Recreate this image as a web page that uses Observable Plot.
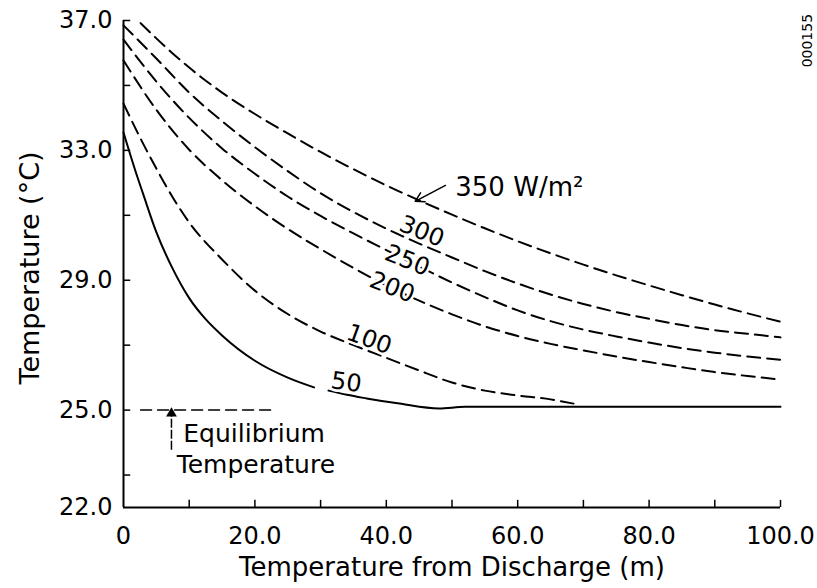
<!DOCTYPE html>
<html>
<head>
<meta charset="utf-8">
<script src="https://cdn.jsdelivr.net/npm/d3@7"></script>
<script src="https://cdn.jsdelivr.net/npm/@observablehq/plot@0.6"></script>
<style>
  body { margin: 0; background: #fff; }
</style>
</head>
<body>
<div id="chart"></div>
<script>
// ---- data (distance from discharge in m, temperature in °C) ----
const dist5 = [0, 5, 10, 15, 20, 25, 30, 35, 40, 45, 50, 55, 60, 65, 70, 75, 80, 85, 90, 95, 100];

const x350 = [2.6, 5, 10, 15, 20, 25, 30, 35, 40, 45, 50, 55, 60, 65, 70, 75, 80, 85, 90, 95, 100];
const t350 = [36.92, 36.45, 35.55, 34.78, 34.12, 33.52, 32.95, 32.42, 31.92, 31.46, 31.02, 30.60, 30.20, 29.83, 29.48, 29.15, 28.84, 28.54, 28.25, 27.98, 27.72];

const t300 = [36.85, 35.83, 34.78, 33.90, 33.10, 32.36, 31.68, 31.10, 30.59, 30.13, 29.70, 29.28, 28.90, 28.56, 28.27, 28.02, 27.81, 27.62, 27.46, 27.35, 27.24];
const t250 = [36.41, 35.12, 34.00, 33.06, 32.28, 31.58, 30.98, 30.44, 29.93, 29.42, 28.93, 28.48, 28.07, 27.74, 27.48, 27.27, 27.08, 26.91, 26.77, 26.65, 26.55];
const t200 = [35.77, 34.25, 33.02, 32.08, 31.28, 30.58, 29.96, 29.38, 28.84, 28.37, 27.95, 27.58, 27.28, 27.04, 26.84, 26.65, 26.48, 26.32, 26.17, 26.05, 25.94];

const x100 = [0, 2.5, 5, 7.5, 10, 15, 20, 25, 30, 35, 40, 45, 50, 55, 60, 65, 68.5];
const t100 = [34.44, 33.40, 32.44, 31.55, 30.78, 29.64, 28.68, 27.96, 27.42, 27.00, 26.61, 26.22, 25.85, 25.60, 25.45, 25.33, 25.20];

const x50a = [0, 2, 3, 5, 7.5, 10, 12.5, 15, 20, 25, 29];
const t50a = [33.55, 32.25, 31.65, 30.48, 29.35, 28.45, 27.80, 27.30, 26.52, 26.00, 25.70];
const x50b = [31.2, 34, 37, 42, 48, 52, 100];
const t50b = [25.60, 25.47, 25.36, 25.20, 25.05, 25.10, 25.10];

const eqX = [2.6, 22.4];
const eqT = [25.0, 25.0];

const curveLabels = ["300", "250", "200", "100", "50"];
const curveLabelX = [45.4, 43.2, 40.9, 37.4, 33.9];
const curveLabelT = [30.50, 29.61, 28.78, 27.18, 25.85];
const curveLabelAngle = [22, 22, 22, 20, 8];

const xTickLabels = [0, 20, 40, 60, 80, 100];
const xTicks = [10, 20, 30, 40, 50, 60, 70, 80, 90, 100];
const yTickLabels = [22, 25, 29, 33, 37];
const yTicks = [23, 25, 27, 29, 31, 33, 35, 37];

// annotations (data coordinates)
const annot350 = {text: "350 W/m²", x: 50.5, t: 31.86, fromX: 49.0, fromT: 31.92, toX: 44.4, toT: 31.43};
const annotEq = {lines: ["Equilibrium", "Temperature"], x: [9.1, 8.1], t: [24.25, 23.30], arrowX: 7.3, arrowFrom: 23.76, arrowTo: 24.90};
const figId = {text: "000155", x: 104.1, t: 36.38};

// ---- build tables ----
const zip = (xs, ts) => xs.map((x, i) => ({x, t: ts[i]}));
const d350 = zip(x350, t350);
const d300 = zip(dist5, t300);
const d250 = zip(dist5, t250);
const d200 = zip(dist5, t200);
const d100 = zip(x100, t100);
const d50a = zip(x50a, t50a);
const d50b = zip(x50b, t50b);
const dEq = zip(eqX, eqT);
const labelRows = curveLabels.map((s, i) => ({s, x: curveLabelX[i], t: curveLabelT[i], a: curveLabelAngle[i]}));

const dash = "13,7";
const lineOpts = (extra) => Object.assign({x: "x", y: "t", stroke: "black", strokeWidth: 2, curve: "monotone-x"}, extra);

const chart = Plot.plot({
  width: 817,
  height: 588,
  marginTop: 20,
  marginBottom: 81,
  marginLeft: 123,
  marginRight: 37,
  x: {domain: [0, 100]},
  y: {domain: [22, 37]},
  style: {fontFamily: "DejaVu Sans", background: "white", color: "black"},
  marks: [
    // axis lines
    Plot.ruleX([0], {stroke: "black", strokeWidth: 2}),
    Plot.ruleY([22], {stroke: "black", strokeWidth: 2}),
    // inward ticks
    Plot.ruleX(xTicks, {x: d => d, y1: 22, y2: 22.22, stroke: "black", strokeWidth: 1.5}),
    Plot.ruleY(yTicks, {y: d => d, x1: 0, x2: 1.1, stroke: "black", strokeWidth: 1.5}),
    // tick labels
    Plot.axisX(xTickLabels, {tickSize: 0, tickPadding: 19, tickFormat: d => d === 0 ? "0" : d.toFixed(1), label: null, fontSize: 24, fill: "black"}),
    Plot.axisY(yTickLabels, {tickSize: 0, tickPadding: 11, tickFormat: d => d.toFixed(1), label: null, fontSize: 24, fill: "black"}),
    // axis titles
    Plot.text(["Temperature from Discharge (m)"], {frameAnchor: "bottom", dy: 68, fontSize: 26, fill: "black", textAnchor: "middle"}),
    Plot.text(["Temperature (°C)"], {frameAnchor: "left", dx: -93, dy: 4, rotate: -90, fontSize: 27, fill: "black", textAnchor: "middle"}),
    // curves
    Plot.line(d350, lineOpts({strokeDasharray: dash})),
    Plot.line(d300, lineOpts({strokeDasharray: dash})),
    Plot.line(d250, lineOpts({strokeDasharray: dash})),
    Plot.line(d200, lineOpts({strokeDasharray: dash})),
    Plot.line(d100, lineOpts({strokeDasharray: dash})),
    Plot.line(d50a, lineOpts({})),
    Plot.line(d50b, lineOpts({})),
    // equilibrium line
    Plot.line(dEq, lineOpts({strokeDasharray: "11,6", strokeWidth: 1.5, curve: "linear"})),
    // curve labels
    Plot.text(labelRows, {x: "x", y: "t", text: "s", rotate: "a", fontSize: 24, fill: "black", stroke: "white", strokeWidth: 5, paintOrder: "stroke"}),
    // 350 annotation
    Plot.arrow([annot350], {x1: "fromX", y1: "fromT", x2: "toX", y2: "toT", stroke: "black", strokeWidth: 1.5, headLength: 10}),
    Plot.text([annot350], {x: "x", y: "t", text: "text", textAnchor: "start", fontSize: 26, fill: "black"}),
    // equilibrium annotation
    Plot.ruleX([annotEq], {x: "arrowX", y1: "arrowFrom", y2: "arrowTo", stroke: "black", strokeWidth: 1.5, strokeDasharray: "9,2"}),
    Plot.dot([annotEq], {x: "arrowX", y: "arrowTo", symbol: "triangle", r: 4, fill: "black", stroke: "none"}),
    Plot.text(annotEq.lines.map((s, i) => ({s, x: annotEq.x[i], t: annotEq.t[i]})), {x: "x", y: "t", text: "s", textAnchor: "start", fontSize: 25, fill: "black"}),
    // figure id
    Plot.text([figId], {x: "x", y: "t", text: "text", rotate: -90, fontSize: 14, fill: "black"})
  ]
});
document.getElementById("chart").appendChild(chart);
</script>
</body>
</html>
